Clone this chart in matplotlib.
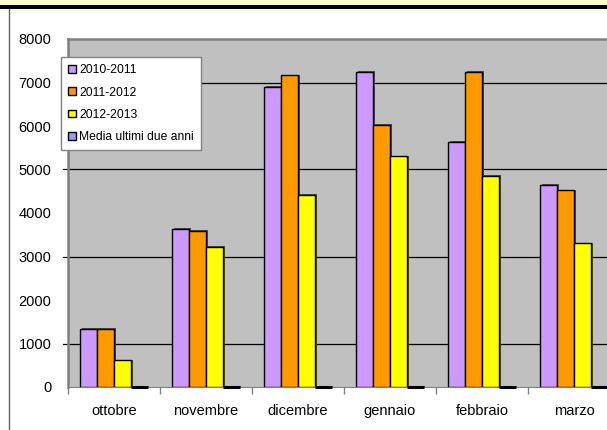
import matplotlib
matplotlib.use("Agg")
import matplotlib.pyplot as plt
import matplotlib.patheffects as pe
import numpy as np

plt.rcParams['font.family'] = ['Liberation Sans', 'DejaVu Sans']

months = ["ottobre", "novembre", "dicembre", "gennaio", "febbraio", "marzo"]
series_names = ["2010-2011", "2011-2012", "2012-2013", "Media ultimi due anni"]
v_2010 = [1330, 3630, 6900, 7240, 5630, 4650]
v_2011 = [1330, 3590, 7165, 6030, 7240, 4520]
v_2012 = [615, 3220, 4420, 5305, 4855, 3300]
v_media = [0, 0, 0, 0, 0, 0]
colors = ["#CC99FF", "#FF9900", "#FFFF00", "#9999FF"]
yticks = [0, 1000, 2000, 3000, 4000, 5000, 6000, 7000, 8000]
grid_lines = [1000, 3000, 5000, 7000]

W, H = 607, 430
fig = plt.figure(figsize=(W / 100, H / 100), dpi=100)
fig.patch.set_facecolor("white")

# top strip of the sheet (pale yellow band + black rule) and left border
fig.patches.append(plt.Rectangle((0, 1 - 4.5 / H), 1, 4.5 / H, transform=fig.transFigure,
                                 facecolor="#FFFFCC", edgecolor="none"))
fig.patches.append(plt.Rectangle((0, 1 - 8.5 / H), 1, 4 / H, transform=fig.transFigure,
                                 facecolor="black", edgecolor="none"))
fig.lines.append(plt.Line2D([9 / W, 9 / W], [0, 1 - 8.5 / H], transform=fig.transFigure,
                            color="#606060", lw=1))

left, right, top, bottom = 68, 620, 39, 387
ax = fig.add_axes([left / W, 1 - bottom / H, (right - left) / W, (bottom - top) / H])
ax.set_facecolor("#C0C0C0")

x = np.arange(len(months))
bw = 0.185
data = [v_2010, v_2011, v_2012, v_media]
shadow = [pe.SimplePatchShadow(offset=(1.2, 0.5), shadow_rgbFace="#404040", alpha=0.9), pe.Normal()]
handles = []
for i, (vals, c) in enumerate(zip(data, colors)):
    lw = 1.0 if i < 3 else 2.0
    b = ax.bar(x + (i - 1.5) * bw, vals, bw, color=c, edgecolor="black", linewidth=lw,
               label=series_names[i], zorder=3)
    for p in b.patches:
        p.set_path_effects(shadow)
    handles.append(b)

# zero-valued series shows as a thick black stroke on the base line
ax.hlines([0] * len(months), x + 1.5 * bw - bw / 2, x + 1.5 * bw + bw / 2,
          color="black", lw=2.2, zorder=4, clip_on=False)

for g in grid_lines:
    ax.axhline(g, xmin=-0.009, color="black", lw=0.9, zorder=2, clip_on=False)

ax.set_xlim(-0.5, len(months) - 0.5)
ax.set_ylim(0, 8000)
ax.set_yticks(yticks)
ax.set_yticklabels([str(t) for t in yticks], fontsize=10.5)
ax.tick_params(axis="y", length=0, pad=12)
ax.set_xticks(x)
ax.set_xticklabels(months, fontsize=10.5)
ax.set_xticks(np.arange(len(months) + 1) - 0.5, minor=True)
ax.tick_params(axis="x", which="major", length=0, pad=12)
ax.tick_params(axis="x", which="minor", length=5, color="#808080", width=1)

for s in ["top", "left"]:
    ax.spines[s].set_color("#808080")
    ax.spines[s].set_linewidth(1.8)
ax.spines["bottom"].set_color("#808080")
ax.spines["right"].set_visible(False)

leg = fig.legend(handles=handles, loc="upper left",
                 bbox_to_anchor=(61 / W, 1 - 57 / H), fontsize=8.7,
                 frameon=True, fancybox=False, framealpha=1, facecolor="white",
                 handlelength=0.6, handleheight=0.6,
                 handletextpad=0.3, borderpad=0.6, labelspacing=0.85, borderaxespad=0)
leg.get_frame().set_edgecolor("#808080")
leg.get_frame().set_linewidth(1)
for h in leg.legend_handles:
    h.set_linewidth(1)
    h.set_path_effects([])

fig.savefig("out.png", dpi=100)
